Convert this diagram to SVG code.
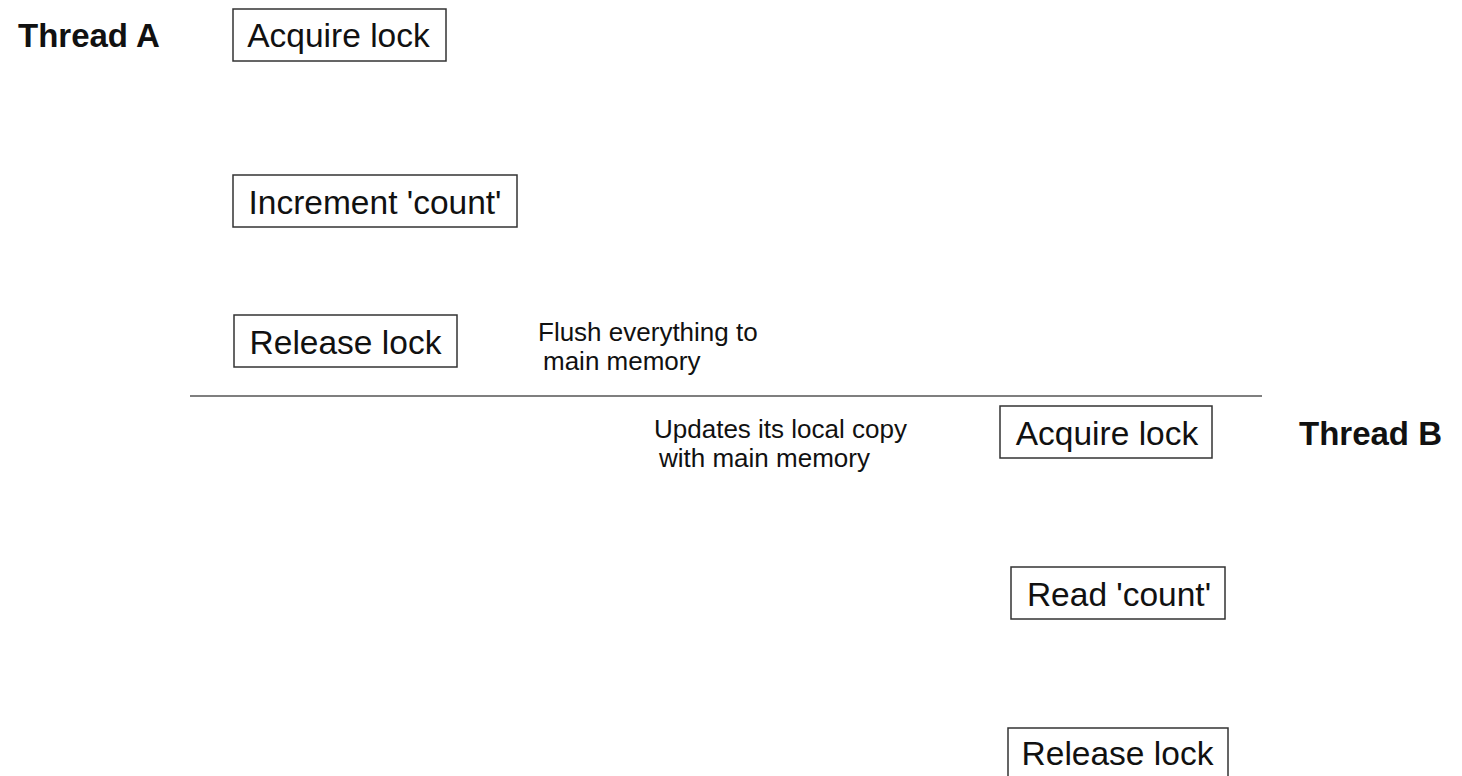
<svg xmlns="http://www.w3.org/2000/svg" width="1462" height="776" viewBox="0 0 1462 776">
<style>
.box{fill:#fff;stroke:#333;stroke-width:1.5}
.bt{font-family:"Liberation Sans",Arial,sans-serif;font-size:33.5px;fill:#111;text-anchor:middle}
.th{font-family:"Liberation Sans",Arial,sans-serif;font-size:33px;font-weight:bold;fill:#111}
.note{font-family:"Liberation Sans",Arial,sans-serif;font-size:26px;fill:#111}
</style>
<rect width="1462" height="776" fill="#fff"/>
<g id="connectors">
<line x1="190" y1="396" x2="1262" y2="396" stroke="#555" stroke-width="1.5"/>
</g>
<g id="threadA"><text class="th" x="18" y="47">Thread A</text></g>
<g id="threadB"><text class="th" x="1299" y="445">Thread B</text></g>
<g id="a-acquire"><rect class="box" x="233" y="9" width="213" height="52"/><text class="bt" x="338.5" y="47">Acquire lock</text></g>
<g id="a-increment"><rect class="box" x="233" y="175" width="284" height="52"/><text class="bt" x="375" y="214">Increment 'count'</text></g>
<g id="a-release"><rect class="box" x="234" y="315" width="223" height="52"/><text class="bt" x="345.5" y="354">Release lock</text></g>
<g id="note-flush"><text class="note" x="538" y="341">Flush everything to</text><text class="note" x="543" y="370">main memory</text></g>
<g id="note-update"><text class="note" x="654" y="438">Updates its local copy</text><text class="note" x="659" y="467">with main memory</text></g>
<g id="b-acquire"><rect class="box" x="1000" y="406" width="212" height="52"/><text class="bt" x="1107" y="445">Acquire lock</text></g>
<g id="b-read"><rect class="box" x="1011" y="567" width="214" height="52"/><text class="bt" x="1119" y="606">Read 'count'</text></g>
<g id="b-release"><rect class="box" x="1008" y="728" width="220" height="54"/><text class="bt" x="1117.5" y="765">Release lock</text></g>
</svg>
